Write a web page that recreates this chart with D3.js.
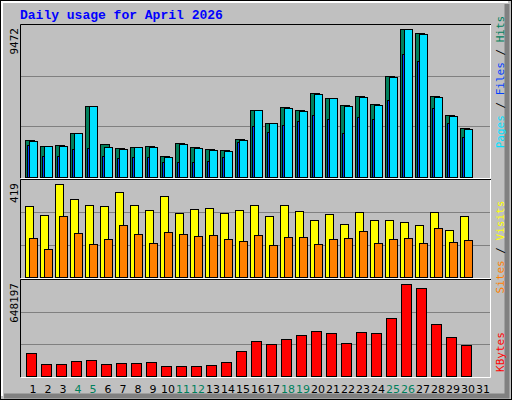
<!DOCTYPE html>
<html><head><meta charset="utf-8">
<script src="https://cdn.jsdelivr.net/npm/d3@7"></script>
<style>body{margin:0;background:#fff}</style></head>
<body><svg id="svg" width="512" height="400"></svg>
<script>
let days = d3.range(1, 32);
let weekend = [4, 5, 11, 12, 18, 19, 25, 26];
let hits = [2306,1932,1994,2742,4424,2056,1807,1869,1932,1308,2118,1869,1745,1682,2368,4174,3364,4362,4174,5234,4922,4486,5047,4549,6293,9223,8974,5047,3863,3053];
let files = [2243,1932,1932,2742,4424,1869,1745,1869,1869,1246,2056,1807,1682,1620,2306,4174,3364,4299,4112,5172,4922,4424,4984,4486,6231,9223,8911,4984,3801,2991];
let pages = [1994,1308,1308,1745,1807,1308,1184,1246,1246,935,935,935,997,1246,2181,3190,2804,3240,3489,3863,3614,2742,3739,3614,4798,7664,7227,4299,3364,2492];
let visits = [305,267,400,336,310,305,366,310,288,349,275,292,297,275,288,310,262,310,284,245,271,228,280,245,245,236,223,280,202,262];
let sites = [167,120,262,189,141,163,223,184,146,193,184,176,180,163,154,180,137,172,172,141,163,167,197,146,163,167,146,210,150,159];
let kbytes = [153270,79000,79000,99250,106000,79000,85750,85750,92500,65500,65500,65500,72250,92500,166770,234300,214040,247800,274800,301800,288300,220800,295060,288300,389590,619160,592150,349080,261300,207290];

let svg = d3.select("#svg");
// frame
svg.append("rect").attr("x", 0.5).attr("y", 0.5).attr("width", 511).attr("height", 399)
  .style("fill", "#c0c0c0").style("stroke", "black");
svg.append("path").attr("d", "M507,4V396H4").style("fill", "none").style("stroke", "#808080").style("stroke-width", 5);
svg.append("path").attr("d", "M2,396V2H508").style("fill", "none").style("stroke", "white").style("stroke-width", 2);

svg.append("text").attr("x", 20).attr("y", 19).text("Daily usage for April 2026")
  .style("font", "bold 13px 'Liberation Mono', monospace").style("fill", "#0000ff");

let x = d3.scaleBand().domain(days).range([21, 486]);

let panels = [
  { top: 25, bottom: 177, max: 9472 },
  { top: 180, bottom: 277, max: 419 },
  { top: 280, bottom: 376, max: 648197 },
];
panels.forEach((p) => {
  p.y = d3.scaleLinear().domain([0, p.max]).range([p.bottom, p.top]);
  // panel border: black top/left, white bottom/right
  svg.append("path").attr("d", `M20.5,${p.bottom + 1}V${p.top - 0.5}H491`).style("fill", "none").style("stroke", "black");
  svg.append("path").attr("d", `M21,${p.bottom + 1.5}H490.5V${p.top}`).style("fill", "none").style("stroke", "white");
  [p.max / 3, p.max * 2 / 3].forEach((v) => {
    svg.append("line").attr("x1", 21).attr("x2", 490).attr("y1", Math.round(p.y(v)) + 0.5).attr("y2", Math.round(p.y(v)) + 0.5)
      .style("stroke", "#808080").style("stroke-width", 1);
  });
  svg.append("text").attr("transform", `translate(18,${p.top + 3}) rotate(-90)`).attr("text-anchor", "end")
    .text(p.max).style("font", "11px 'DejaVu Sans Mono', monospace").style("fill", "black");
});

function bars(data, panel, dx, w, color) {
  let p = panels[panel];
  svg.append("g").selectAll("rect").data(data).enter().append("rect")
    .attr("x", (d, i) => x(i + 1) + dx + 0.5)
    .attr("y", (d) => Math.round(p.y(d)) + 0.5)
    .attr("width", w)
    .attr("height", (d) => p.bottom - Math.round(p.y(d)))
    .style("fill", color).style("stroke", "black").style("stroke-width", 1);
}
bars(hits, 0, 4, 9, "#00805c");
bars(files, 0, 8, 8, "#00e0ff");
bars(pages, 0, 6, 2, "#0040ff");
bars(visits, 1, 4, 8, "#ffff00");
bars(sites, 1, 8, 8, "#ff8000");
bars(kbytes, 2, 5, 10, "#ff0000");

svg.append("g").selectAll("text").data(days).enter().append("text")
  .attr("x", (d) => x(d) + 12).attr("y", 393).attr("text-anchor", "middle")
  .text((d) => d).style("font", "11px 'DejaVu Sans', sans-serif")
  .style("fill", (d) => weekend.includes(d) ? "#00805c" : "black");

// right legends
function legend(cy, parts) {
  let t = svg.append("text").attr("transform", `translate(504,${cy}) rotate(-90)`).attr("text-anchor", "middle")
    .style("font", "11px 'DejaVu Sans Mono', monospace");
  parts.forEach(([s, c]) => t.append("tspan").text(s).style("fill", c));
}
legend(82, [["Pages", "#00e0ff"], [" / ", "black"], ["Files", "#0040ff"], [" / ", "black"], ["Hits", "#00805c"]]);
legend(247, [["Sites", "#ff8000"], [" / ", "black"], ["Visits", "#ffff00"]]);
legend(352, [["KBytes", "#ff0000"]]);
</script></body></html>
